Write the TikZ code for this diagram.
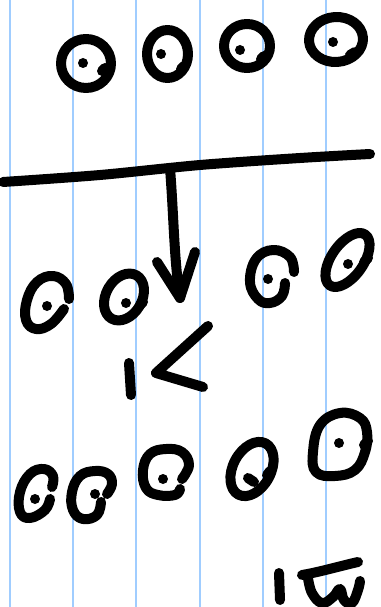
\documentclass[tikz,border=0pt]{standalone}
\definecolor{ruleblue}{RGB}{160,205,255}
\begin{document}
\begin{tikzpicture}[x=0.02cm, y=-0.02cm,
  ink/.style={line width=0.2cm, line cap=round, line join=round},
  rule/.style={ruleblue, line width=0.05cm}]
\useasboundingbox (0,0) rectangle (380,607);
\fill[white] (0,0) rectangle (380,607);
% paper lines
\foreach \x in {10,73,136,200,263,326}
  \draw[rule] (\x,0) -- (\x,607);
% top row
\draw[ink] (86,63.5) ellipse [x radius=25, y radius=24.5];
\draw[ink] (167.5,54) ellipse [x radius=20.5, y radius=24];
\draw[ink] (247,46) ellipse [x radius=23, y radius=22];
\draw[ink, rotate around={4:(336,39.5)}] (336,39.5) ellipse [x radius=27, y radius=22.5];
\draw[ink] (102,71) -- (105,68);
\draw[ink] (181,69) -- (184,66);
\draw[ink] (261,59) -- (264,56);
\draw[ink] (350,55) -- (355,52);
\fill (83,63) circle (5);
\fill (161,54) circle (5);
\fill (240,50) circle (5);
\fill (333,42) circle (5);
% bar
\draw[ink] plot[smooth] coordinates {(3,182) (100,175) (200,165) (300,158) (370,154)};
% arrow down
\coordinate (bar) at (170,168);
\coordinate (tip) at (180,298);
\draw[ink] (bar) .. controls (174,220) and (174,260) .. (tip);
\draw[ink] (157,262) -- (tip) -- (195,252);
% middle row
\draw[ink] plot[smooth, tension=0.7] coordinates {(69,299) (66,284) (53,276) (37,282) (27,300) (26,320) (36,329) (51,324) (64,309)};
\draw[ink, rotate around={60:(124,297)}] (124,297) ellipse [x radius=25, y radius=18];
\draw[ink] (140,305) -- (143,302);
\draw[ink] plot[smooth, tension=0.7] coordinates {(294,272) (290,257) (273,250) (256,259) (250,282) (258,299) (270,303) (282,296) (285,283)};
\draw[ink, rotate around={55:(347.5,260)}] (347.5,260) ellipse [x radius=31, y radius=16];
\draw[ink] (364,262) -- (368,258);
\fill (47,306) circle (5);
\fill (126,303) circle (5);
\fill (268,279) circle (5);
\fill (348,264) circle (5);
% 1<
\draw[ink] (129,363) -- (131,395);
\draw[ink] (208,326) -- (156,373) -- (203,387);
% bottom row
\draw[ink] plot[smooth, tension=0.7] coordinates {(52,487) (53,476) (44,469) (30,474) (20,492) (20,512) (30,518) (45,510) (50,499)};
\draw[ink] plot[smooth, tension=0.7] coordinates {(107,494) (112,484) (108,474) (95,471) (80,476) (72,492) (73,510) (83,519) (97,515) (101,502)};
\draw[ink] plot[smooth, tension=0.7] coordinates {(182,479) (189,465) (182,452) (166,449) (150,454) (143,470) (146,488) (158,495) (175,495) (180,489)};
\draw[ink, rotate around={62:(252,469)}] (252,469) ellipse [x radius=29, y radius=19];
\draw[ink] plot[smooth cycle, tension=0.7] coordinates {(340,413) (360,418) (367,432) (365,452) (355,470) (335,476) (316,472) (313,452) (320,425)};
\draw[ink] (248,478) -- (254,482);
\draw[ink] (267,475) -- (270,471);
\draw[ink] (364,445) -- (368,441);
\fill (35,499) circle (5);
\fill (95,494) circle (5);
\fill (163,479) circle (5);
\fill (339,443) circle (5);
% 1w
\draw[ink] (279,573) -- (280,600);
\draw[ink] (302,575) .. controls (320,572) and (340,566) .. (358,562);
\draw[ink] plot[smooth, tension=0.7] coordinates {(308,578) (312,593) (322,603) (333,597) (340,589) (344,600) (352,603) (358,590) (360,581)};
\end{tikzpicture}
\end{document}
